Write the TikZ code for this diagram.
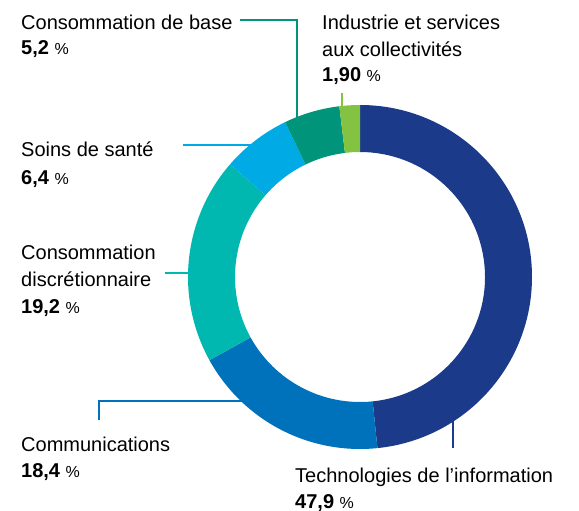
\documentclass[tikz,border=0pt]{standalone}
\usepackage{fontspec}
\setmainfont{Liberation Sans}
\usepackage{tikz}
\usetikzlibrary{calc}
\definecolor{infocol}{RGB}{27,58,138}
\definecolor{commcol}{RGB}{0,114,188}
\definecolor{discol}{RGB}{0,184,176}
\definecolor{santecol}{RGB}{0,170,229}
\definecolor{basecol}{RGB}{0,149,122}
\definecolor{indcol}{RGB}{132,195,65}
% one piece of the ring: colour, start angle, end angle
\def\ringpart#1#2#3{
	\fill[#1] ($(ctr)+(#2:172)$) arc[start angle=#2,end angle=#3,radius=172]
		-- ($(ctr)+(#3:125)$) arc[start angle=#3,end angle=#2,radius=125] -- cycle;}
\def\pct#1{\textbf{#1} {\fontsize{16}{16}\selectfont\%}}
\tikzset{
	lbl/.style={anchor=base west,inner sep=0pt,font=\fontsize{20}{24}\selectfont},
	lead/.style={line width=1.6pt}
}

\begin{document}
\begin{tikzpicture}[x=1pt,y=1pt]
				\useasboundingbox (0,0) rectangle (579,-511);
				\coordinate (ctr) at (360,-277);
				\ringpart{infocol}{90}{-84.18}
				\ringpart{commcol}{-84.18}{-151.09}
				\ringpart{discol}{-151.09}{-220.91}
				\ringpart{santecol}{-220.91}{-244.18}
				\ringpart{basecol}{-244.18}{-263.09}
				\ringpart{indcol}{-263.09}{-270}
				% leader lines
				\coordinate (basea) at (297,-119);
				\coordinate (baseb) at (297,-20);
				\coordinate (basec) at (240,-20);
				\draw[lead,basecol] (basea)--(baseb)--(basec);
				\coordinate (inda) at (342,-108);
				\coordinate (indb) at (342,-93);
				\draw[lead,indcol] (inda)--(indb);
				\coordinate (santea) at (251,-145);
				\coordinate (santeb) at (183,-145);
				\draw[lead,santecol] (santea)--(santeb);
				\coordinate (disa) at (189,-273);
				\coordinate (disb) at (165,-273);
				\draw[lead,discol] (disa)--(disb);
				\coordinate (comma) at (242,-401);
				\coordinate (commb) at (99,-401);
				\coordinate (commc) at (99,-420);
				\draw[lead,commcol] (comma)--(commb)--(commc);
				\coordinate (infoa) at (453,-420);
				\coordinate (infob) at (453,-448);
				\draw[lead,infocol] (infoa)--(infob);
				% labels
				\node[lbl] (base) at (21,-30) {Consommation de base};
				\node[lbl] (basev) at (21,-55) {\pct{5,2}};
				\node[lbl] (ind) at (322,-30) {Industrie et services};
				\node[lbl] (ind2) at (322,-57) {aux collectivités};
				\node[lbl] (indv) at (322,-82) {\pct{1,90}};
				\node[lbl] (sante) at (21,-157) {Soins de santé};
				\node[lbl] (santev) at (21,-184) {\pct{6,4}};
				\node[lbl] (dis) at (21,-259) {Consommation};
				\node[lbl] (dis2) at (21,-286) {discrétionnaire};
				\node[lbl] (disv) at (21,-313) {\pct{19,2}};
				\node[lbl] (comm) at (21,-451) {Communications};
				\node[lbl] (commv) at (21,-477) {\pct{18,4}};
				\node[lbl] (info) at (295,-482) {Technologies de l’information};
				\node[lbl] (infov) at (295,-508) {\pct{47,9}};
			\end{tikzpicture}
\end{document}
